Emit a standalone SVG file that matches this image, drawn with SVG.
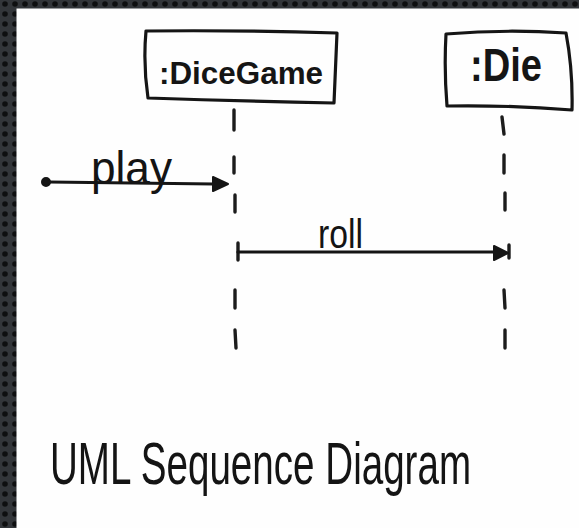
<svg xmlns="http://www.w3.org/2000/svg" width="579" height="528" viewBox="0 0 579 528">
  <defs>
    <pattern id="frameDots" x="0" y="0" width="10" height="10" patternUnits="userSpaceOnUse">
      <rect width="10" height="10" fill="#33363a"/>
      <circle cx="5" cy="4" r="2.8" fill="#0e0f10"/>
    </pattern>
    <style>
      .pen { fill: none; stroke: #151515; stroke-width: 3.2; stroke-linecap: round; stroke-linejoin: round; }
      .dash { fill: none; stroke: #1c1c1c; stroke-width: 3.4; stroke-linecap: round; }
      .head { fill: #151515; stroke: #151515; stroke-width: 2; stroke-linejoin: round; }
      .label { font-family: "Liberation Sans", "DejaVu Sans", sans-serif; fill: #151515; }
      .hand { font-family: "Liberation Sans", "DejaVu Sans", sans-serif; fill: #141414; }
    </style>
  </defs>

  <!-- dotted frame and paper -->
  <rect width="579" height="528" fill="url(#frameDots)"/>
  <rect x="16.5" y="8.5" width="562.5" height="519.5" fill="#fefefe"/>

  <!-- lifeline objects -->
  <g id="dicegame">
    <path class="pen" d="M146,31 Q241,30 337,33 L334,103 Q241,101 148,98 Q143,64 146,31 Z"/>
    <text class="label" x="159" y="84" font-size="31" font-weight="bold" textLength="164" lengthAdjust="spacingAndGlyphs">:DiceGame</text>
  </g>
  <g id="die">
    <path class="pen" d="M446,34 Q505,29 566,33 Q573,70 572,110 Q510,105 447,106 Q444,70 446,34 Z"/>
    <text class="label" x="470" y="81" font-size="46" font-weight="bold" textLength="72" lengthAdjust="spacingAndGlyphs">:Die</text>
  </g>

  <!-- connectors: lifelines and messages -->
  <g id="connectors">
    <path class="dash" d="M234,110 L234,130 M234,157 L234,173 M235,195 L235,212 M238,243 L238,260 M235,290 L235,308 M235,330 L236,348"/>
    <path class="dash" d="M502,117 L504,134 M504,155 L504,173 M505,193 L505,210 M509,245 L509,258 M504,290 L505,308 M505,330 L505,348"/>

    <g id="msg-play">
      <circle cx="46" cy="182" r="4" fill="#151515" stroke="#151515" stroke-width="2"/>
      <path class="pen" d="M49,182 L214,184"/>
      <path class="head" d="M213,177 L228,184 L213,191 Z"/>
      <text class="hand" x="91" y="184" font-size="46" textLength="81" lengthAdjust="spacingAndGlyphs">play</text>
    </g>

    <g id="msg-roll">
      <path class="pen" d="M238,252 L496,252"/>
      <path class="head" d="M494,246 L508,253 L494,260 Z"/>
      <text class="hand" x="318" y="248" font-size="40" textLength="45" lengthAdjust="spacingAndGlyphs">roll</text>
    </g>
  </g>

  <!-- caption, drawn narrow and stretched tall -->
  <text class="hand" transform="translate(50,484) scale(1,1.55)" x="0" y="0" font-size="38.6">UML Sequence Diagram</text>
</svg>
